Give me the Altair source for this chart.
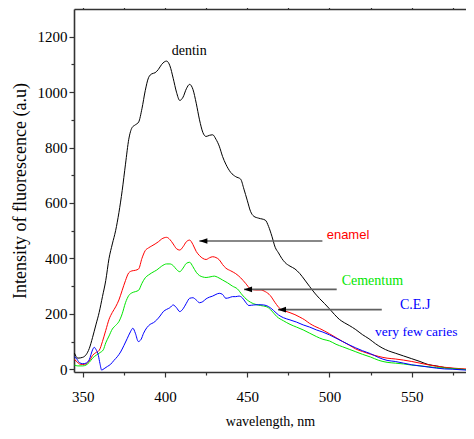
import altair as alt
import pandas as pd

# ---------------- data ----------------
dentin_wl = [345, 347, 350, 352, 354, 356, 358, 360, 362, 364, 366, 368, 370, 372, 374, 376, 378, 380,
             382, 384, 386, 388, 390, 392, 394, 396, 398, 401, 403, 405, 407, 409, 411, 413, 415, 417,
             419, 421, 423, 425, 427, 429, 431, 433, 435, 437, 440, 443, 446, 448, 450, 452, 454, 457,
             461, 463, 465, 467, 469, 471, 473, 476, 479, 482, 485, 488, 491, 494, 497, 500, 503, 506,
             509, 512, 516, 520, 524, 528, 532, 536, 540, 545, 550, 555, 560, 565, 570, 575, 580, 586]
dentin_val = [58, 40, 43, 52, 75, 115, 160, 205, 262, 320, 400, 452, 500, 565, 645, 740, 830, 872,
              882, 892, 940, 1005, 1052, 1066, 1070, 1082, 1100, 1112, 1095, 1050, 1000, 970, 982, 1012, 1028, 1010,
              960, 900, 855, 840, 844, 846, 830, 805, 768, 740, 710, 695, 686, 650, 610, 570, 552, 545,
              538, 515, 480, 440, 420, 400, 385, 372, 362, 345, 322, 298, 275, 255, 237, 218, 198, 180,
              168, 158, 143, 125, 110, 92, 77, 66, 58, 48, 38, 28, 17, 12, 6, 3, 0, -3]

enamel_wl = [345, 346.5, 348, 350, 352, 354, 356, 358, 360, 362, 364, 366, 368, 370, 372, 374, 376, 378,
             380, 382, 384, 386, 388, 390, 392, 394, 396, 398, 401, 403, 405, 407, 409, 411, 413, 415,
             417, 419, 421, 423, 425, 427, 429, 431, 433, 435, 437, 440, 443, 446, 449, 452, 455, 458,
             461, 464, 467, 470, 473, 476, 479, 482, 485, 488, 491, 494, 497, 500, 504, 508, 512, 516,
             520, 525, 530, 535, 540, 545, 550, 555, 560, 565, 570, 575, 580, 586]
enamel_val = [35, 27, 19, 17, 19, 30, 50, 60, 68, 100, 140, 180, 205, 225, 250, 285, 320, 348,
              355, 357, 362, 400, 428, 438, 445, 452, 460, 470, 476, 468, 452, 435, 430, 442, 460, 466,
              450, 425, 410, 400, 396, 402, 406, 403, 395, 378, 365, 355, 345, 330, 310, 290, 286, 286,
              280, 266, 240, 218, 210, 204, 197, 188, 178, 165, 155, 147, 138, 128, 114, 100, 87, 73,
              64, 54, 46, 40, 37, 33, 28, 22, 16, 11, 7, 4, 2, 0]

cementum_wl = [345, 347, 350, 352, 354, 356, 358.5, 360.5, 362.5, 364, 366, 368, 370, 372, 374, 376, 378,
               380, 382, 384, 386, 388, 390, 392, 395, 398, 401, 403, 405, 407, 409, 411, 413, 415, 417,
               419, 421, 423, 425, 428, 430, 432, 435, 438, 441, 444, 447, 450, 454, 458, 462, 465, 468,
               472, 476, 480, 484, 488, 492, 496, 500, 504, 508, 512, 516, 520, 525, 530, 535, 540, 545,
               550, 555, 560, 565, 570, 575, 580, 586]
cementum_val = [15, 12, 12, 15, 25, 40, 52, 60, 70, 95, 120, 145, 158, 172, 200, 240, 266,
                276, 280, 285, 310, 330, 340, 348, 358, 372, 380, 380, 374, 360, 352, 365, 382, 386, 370,
                350, 338, 333, 331, 334, 336, 332, 322, 312, 300, 290, 268, 250, 236, 230, 225, 210, 190,
                175, 162, 152, 142, 130, 118, 108, 102, 90, 81, 72, 63, 54, 44, 32, 25, 22, 19,
                15, 12, 9, 6, 4, 2, 0, -3]

cej_wl = [345, 346, 348, 350, 352, 354, 356, 357, 358, 359.5, 360.5, 361.5, 363, 365, 367, 369, 371, 373,
          375, 377, 379, 380.5, 382, 383.8, 385.5, 387, 389, 391, 393, 395, 397, 399, 401, 403, 405, 407,
          409, 411, 413, 415, 417, 419, 421, 423, 425, 427, 429, 431, 433, 435, 437, 439, 441, 443, 445,
          447, 449, 451, 454, 457, 460, 463, 466, 469, 472, 476, 480, 484, 488, 492, 496, 500, 504, 508,
          512, 516, 520, 525, 530, 535, 540, 545, 550, 555, 560, 565, 570, 575, 580, 586]
cej_val = [45, 40, 24, 20, 22, 35, 70, 79, 72, 50, 20, -3, 2, 10, 18, 32, 45, 62,
           85, 110, 135, 148, 130, 100, 108, 130, 150, 162, 168, 178, 192, 208, 216, 222, 232, 222,
           208, 218, 238, 256, 258, 250, 240, 244, 254, 260, 264, 270, 274, 270, 256, 258, 262, 262, 264,
           258, 242, 230, 232, 233, 232, 226, 212, 196, 186, 178, 170, 160, 152, 142, 134, 124, 112, 100,
           88, 77, 67, 56, 42, 32, 28, 22, 16, 12, 8, 4, 1, 0, -2, -4]

series_names = ["dentin", "enamel", "Cementum", "C.E.J"]
series_colors = ["#000000", "#ff0000", "#00e600", "#0000ff"]

x_tick_values = [350, 375, 400, 425, 450, 475, 500, 525, 550, 575]
y_tick_values = [0, 100, 200, 300, 400, 500, 600, 700, 800, 900, 1000, 1100, 1200]

# annotation texts
serif_labels = ["dentin", "Cementum", "C.E.J", "very few caries"]
serif_label_wl = [404.1, 507.4, 542.9, 527.7]
serif_label_val = [1150, 319, 232, 135]
serif_label_colors = ["#000000", "#00e600", "#0000ff", "#0000ff"]
serif_label_sizes = [14, 14, 14, 13.5]

sans_labels = ["enamel"]
sans_label_wl = [498.3]
sans_label_val = [484]
sans_label_colors = ["#ff0000"]

# arrows (tip wavelength, tail wavelength, level)
arrow_tip = [420.9, 448.1, 468.7]
arrow_end = [495.7, 504.4, 531.8]
arrow_val = [463, 288, 215]

# ---------------- tables ----------------
rows = []
for name, wl, val in zip(series_names,
                         [dentin_wl, enamel_wl, cementum_wl, cej_wl],
                         [dentin_val, enamel_val, cementum_val, cej_val]):
    for w, v in zip(wl, val):
        rows.append({"series": name, "wl": w, "val": v})
df = pd.DataFrame(rows)

serif_df = pd.DataFrame({"label": serif_labels, "wl": serif_label_wl, "val": serif_label_val,
                         "color": serif_label_colors, "size": serif_label_sizes})
sans_df = pd.DataFrame({"label": sans_labels, "wl": sans_label_wl, "val": sans_label_val,
                        "color": sans_label_colors})
arrow_df = pd.DataFrame({"tip": arrow_tip, "end": arrow_end, "val": arrow_val})

# ---------------- scales & axes ----------------
x_scale = alt.Scale(domain=[344.7, 583.0], nice=False, zero=False)
y_scale = alt.Scale(domain=[-10, 1300], nice=False, zero=False)

bottom_axis = alt.Axis(
    orient="bottom", values=x_tick_values, title="wavelength, nm",
    labelExpr="datum.value % 50 === 0 ? datum.label : ''",
    tickSize={"condition": {"test": "datum.value % 50 === 0", "value": 5}, "value": 3},
    labelPadding=12, titlePadding=10, titleFontSize=14, format="d",
)
top_axis = alt.Axis(
    orient="top", values=x_tick_values, title=None, labels=False,
    tickSize={"condition": {"test": "datum.value % 50 === 0", "value": 6}, "value": 3},
)
left_axis = alt.Axis(
    orient="left", values=y_tick_values, title="Intensity of fluorescence (a.u)",
    labelExpr="datum.value % 200 === 0 ? datum.label : ''",
    tickSize={"condition": {"test": "datum.value % 200 === 0", "value": 5}, "value": 3},
    labelPadding=2, titlePadding=8, titleFontSize=18, format="d",
)

lines = alt.Chart(df).mark_line(strokeWidth=1, interpolate="monotone", clip=True).encode(
    x=alt.X("wl:Q", scale=x_scale, axis=bottom_axis),
    y=alt.Y("val:Q", scale=y_scale, axis=left_axis),
    color=alt.Color("series:N", scale=alt.Scale(domain=series_names, range=series_colors), legend=None),
    order=alt.Order("wl:Q"),
)

top_layer = alt.Chart(df).mark_line(opacity=0).encode(
    x=alt.X("wl:Q", scale=x_scale, axis=top_axis),
    y=alt.Y("val:Q", scale=y_scale, axis=left_axis),
    detail="series:N",
)

rules = alt.Chart(arrow_df).mark_rule(color="#606060", strokeWidth=1.6).encode(
    x=alt.X("tip:Q", scale=x_scale, axis=None),
    x2="end:Q",
    y=alt.Y("val:Q", scale=y_scale, axis=left_axis),
)
heads = alt.Chart(arrow_df).mark_point(
    shape="M0,0L2,-0.7L2,0.7Z", filled=True, color="#000000", size=64, opacity=1
).encode(
    x=alt.X("tip:Q", scale=x_scale, axis=None),
    y=alt.Y("val:Q", scale=y_scale, axis=left_axis),
)

serif_text = alt.Chart(serif_df).mark_text(
    font="Liberation Serif", align="left", baseline="middle"
).encode(
    x=alt.X("wl:Q", scale=x_scale, axis=None),
    y=alt.Y("val:Q", scale=y_scale, axis=left_axis),
    text="label:N",
    color=alt.Color("color:N", scale=None),
    size=alt.Size("size:Q", scale=None),
)
sans_text = alt.Chart(sans_df).mark_text(
    font="Liberation Sans", fontSize=13, align="left", baseline="middle"
).encode(
    x=alt.X("wl:Q", scale=x_scale, axis=None),
    y=alt.Y("val:Q", scale=y_scale, axis=left_axis),
    text="label:N",
    color=alt.Color("color:N", scale=None),
)

chart = alt.layer(lines, top_layer, rules, heads, serif_text, sans_text).resolve_axis(
    x="independent"
).properties(
    width=392, height=363,
    autosize=alt.AutoSizeParams(type="none"),
    padding={"left": 66, "top": 1, "right": 0, "bottom": 59},
    background="white",
).configure_view(stroke=None).configure_axis(
    grid=False, domainColor="#333333", domainWidth=1.6, tickColor="#333333", tickWidth=1.2,
    labelFont="Liberation Serif", labelFontSize=15, labelColor="#000000",
    titleFont="Liberation Serif", titleFontWeight="normal", titleColor="#000000",
)

chart.save("out.html", embed_options={"renderer": "svg", "actions": False})
